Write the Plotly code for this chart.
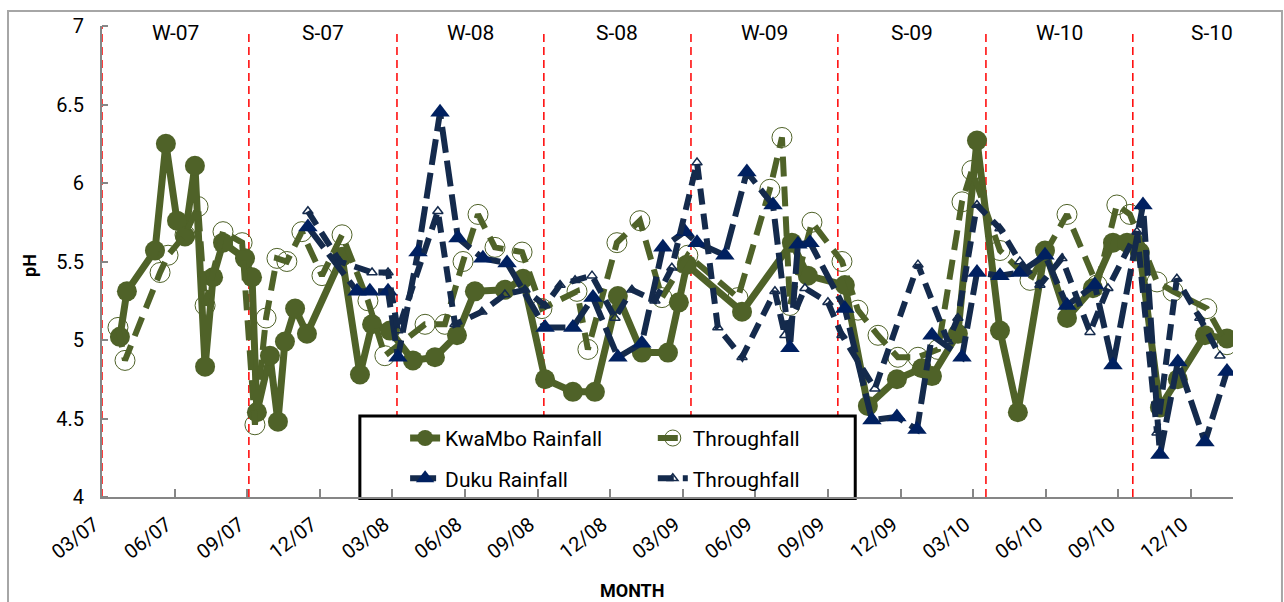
import plotly.graph_objects as go

# x values: months elapsed since March 2007 (sampling dates)
kr_month = [0.74, 1.03, 2.19, 2.64, 3.10, 3.43, 3.84, 4.26, 4.59, 5.00, 5.91, 6.20, 6.40, 6.94, 7.27,
            7.56, 7.98, 8.47, 9.92, 10.66, 11.16, 11.90, 12.85, 13.76, 14.67, 15.41, 16.65, 17.40,
            18.31, 19.46, 20.37, 21.32, 22.31, 23.39, 23.84, 24.17, 26.45, 28.51, 29.17, 30.70,
            31.65, 32.85, 33.88, 34.30, 35.37, 36.16, 37.11, 37.85, 38.97, 39.88, 40.95, 41.78,
            42.36, 42.89, 43.72, 44.46, 45.58, 46.49]
kr_ph = [5.02, 5.31, 5.57, 6.25, 5.76, 5.66, 6.11, 4.83, 5.40, 5.62, 5.52, 5.40, 4.54, 4.90, 4.48,
         4.99, 5.20, 5.04, 5.53, 4.78, 5.10, 5.06, 4.87, 4.89, 5.03, 5.31, 5.32, 5.39,
         4.75, 4.67, 4.67, 5.28, 4.92, 4.92, 5.24, 5.48, 5.18, 5.62, 5.41, 5.35,
         4.58, 4.75, 4.82, 4.77, 5.04, 6.27, 5.06, 4.54, 5.57, 5.14, 5.33, 5.62,
         5.62, 5.56, 4.57, 4.75, 5.03, 5.01]

kt_month = [0.66, 0.95, 2.40, 2.73, 3.43, 3.97, 4.26, 5.00, 5.79, 6.32, 6.78, 7.23, 7.64, 8.26, 9.09,
            9.92, 10.99, 11.69, 13.35, 14.17, 14.92, 15.54, 16.24, 17.36, 18.18, 19.63, 20.08,
            21.28, 22.23, 23.14, 24.21, 26.28, 27.60, 28.10, 28.43, 29.34, 30.58, 31.24, 32.07,
            32.89, 33.72, 34.55, 35.54, 35.95, 37.11, 38.35, 39.88, 41.12, 41.94, 42.48, 43.60,
            44.26, 45.66, 46.49]
kt_ph = [5.08, 4.87, 5.43, 5.54, 5.67, 5.85, 5.22, 5.69, 5.62, 4.46, 5.14, 5.52, 5.50, 5.69, 5.41,
         5.67, 5.25, 4.90, 5.10, 5.10, 5.50, 5.80, 5.59, 5.56, 5.20, 5.31, 4.94,
         5.62, 5.76, 5.27, 5.54, 5.27, 5.96, 6.29, 5.22, 5.75, 5.50, 5.19, 5.03,
         4.89, 4.89, 4.94, 5.88, 6.08, 5.57, 5.38, 5.80, 5.35, 5.86, 5.80, 5.37,
         5.31, 5.20, 4.97]

dr_month = [8.51, 10.54, 11.07, 11.82, 12.23, 13.06, 13.97, 14.71, 15.74, 16.74, 18.31, 19.46, 20.29,
            21.32, 22.31, 23.18, 24.09, 24.59, 25.74, 26.65, 27.73, 28.43, 28.76, 29.26, 30.70,
            31.82, 32.85, 33.68, 34.30, 35.54, 36.16, 37.11, 37.93, 38.97, 39.88, 41.03, 41.78,
            43.02, 43.72, 44.46, 45.58, 46.49]
dr_ph = [5.72, 5.31, 5.31, 5.31, 4.89, 5.56, 6.45, 5.65, 5.52, 5.49, 5.08, 5.08, 5.27,
         4.89, 4.98, 5.59, 5.69, 5.62, 5.54, 6.07, 5.86, 4.95, 5.61, 5.62, 5.20,
         4.49, 4.51, 4.43, 5.03, 4.89, 5.43, 5.41, 5.43, 5.54, 5.22, 5.35, 4.84,
         5.86, 4.27, 4.86, 4.35, 4.80]

dt_month = [8.51, 9.83, 11.16, 11.82, 12.23, 13.88, 14.59, 15.70, 16.65, 17.48, 18.31, 18.93, 19.55,
            20.25, 21.20, 21.90, 22.85, 23.55, 24.59, 25.45, 26.45, 27.81, 28.22, 29.05, 30.00,
            30.58, 31.94, 33.72, 34.96, 35.37, 36.16, 37.11, 37.93, 38.76, 39.67, 40.83, 41.57,
            42.77, 43.60, 44.42, 45.37, 46.20]
dt_ph = [5.82, 5.50, 5.43, 5.43, 5.06, 5.82, 5.10, 5.18, 5.29, 5.32, 5.22, 5.35, 5.38,
         5.41, 5.14, 5.32, 5.25, 5.46, 6.13, 5.08, 4.89, 5.31, 5.03, 5.33, 5.24,
         5.03, 4.69, 5.48, 4.99, 5.14, 5.86, 5.71, 5.50, 5.35, 5.52, 5.05, 5.33,
         5.69, 4.41, 5.39, 5.14, 4.90]

tick_months = [0, 3, 6, 9, 12, 15, 18, 21, 24, 27, 30, 33, 36, 39, 42, 45]
tick_labels = ["03/07", "06/07", "09/07", "12/07", "03/08", "06/08", "09/08", "12/08",
               "03/09", "06/09", "09/09", "12/09", "03/10", "06/10", "09/10", "12/10"]

season_names = ["W-07", "S-07", "W-08", "S-08", "W-09", "S-09", "W-10", "S-10"]
season_centers = [3.04, 9.13, 15.23, 21.30, 27.38, 33.47, 39.57, 45.87]
season_bounds = [0.0, 6.07, 12.19, 18.26, 24.34, 30.41, 36.53, 42.60]

y_ticks = [4, 4.5, 5, 5.5, 6, 6.5, 7]
y_tick_labels = ["4", "4.5", "5", "5.5", "6", "6.5", "7"]

GREEN = "#4F6228"
NAVY = "#002060"
NAVY_LINE = "#142A4C"
FONT = "Roboto, Open Sans, sans-serif"
PAD = "\u00a0\u00a0"

fig = go.Figure()
fig.add_trace(go.Scatter(
    x=kr_month, y=kr_ph, mode="lines+markers", name="KwaMbo Rainfall",
    line=dict(color=GREEN, width=7), marker=dict(symbol="circle", size=20, color=GREEN),
    legend="legend", legendgroup="g1"))
fig.add_trace(go.Scatter(
    x=kt_month, y=kt_ph, mode="lines+markers", name="Throughfall",
    line=dict(color=GREEN, width=6, dash="20px,10px"),
    marker=dict(symbol="circle-open", size=20, color=GREEN, line=dict(width=1, color=GREEN)),
    legend="legend2", legendgroup="g2"))
fig.add_trace(go.Scatter(
    x=dr_month, y=dr_ph, mode="lines+markers", name="Duku Rainfall",
    line=dict(color=NAVY_LINE, width=6, dash="26px,8px"),
    marker=dict(symbol="triangle-up", size=17, color=NAVY),
    legend="legend", legendgroup="g3"))
fig.add_trace(go.Scatter(
    x=dt_month, y=dt_ph, mode="lines+markers", name="Throughfall",
    line=dict(color=NAVY_LINE, width=6, dash="16px,9px"),
    marker=dict(symbol="triangle-up-open", size=9, color=NAVY_LINE, line=dict(width=1.5, color=NAVY_LINE)),
    legend="legend2", legendgroup="g4"))

shapes = []
# outer chart frame
shapes.append(dict(type="rect", xref="paper", yref="paper", x0=-0.0831, x1=1.0433, y0=-0.26, y1=1.0318,
                   line=dict(color="#A6A6A6", width=2), fillcolor="rgba(0,0,0,0)", layer="below"))
for i, b in enumerate(season_bounds):
    shapes.append(dict(type="line", xref="x", yref="paper", x0=b, x1=b, y0=0, y1=1.0 if i == 0 else 0.987,
                       line=dict(color="#FF0000", width=1.5, dash="8px,5px"), layer="below"))
# legend box
shapes.append(dict(type="rect", xref="paper", yref="paper", x0=0.228, x1=0.666, y0=-0.003, y1=0.172,
                   line=dict(color="black", width=3), fillcolor="white", layer="below"))

annotations = []
for name, c in zip(season_names, season_centers):
    annotations.append(dict(x=c, y=0.985, xref="x", yref="paper", text=name, showarrow=False,
                            font=dict(size=21, family=FONT, color="black"), xanchor="center", yanchor="middle"))
annotations.append(dict(x=0.4686, y=-0.1975, xref="paper", yref="paper", text="<b>MONTH</b>", showarrow=False,
                        font=dict(size=18, family=FONT, color="black"), xanchor="center", yanchor="middle"))
annotations.append(dict(x=-0.0637, y=0.4926, xref="paper", yref="paper", text="<b>pH</b>", showarrow=False,
                        textangle=-90, font=dict(size=18, family=FONT, color="black"),
                        xanchor="center", yanchor="middle"))

legend_common = dict(yanchor="top", xanchor="left", bgcolor="rgba(0,0,0,0)", borderwidth=0,
                     font=dict(size=21, family=FONT, color="black"), tracegroupgap=10,
                     orientation="v")

fig.update_layout(
    width=1284, height=602,
    margin=dict(l=102, r=51, t=26, b=105),
    paper_bgcolor="white", plot_bgcolor="white",
    showlegend=True,
    legend=dict(x=0.268, y=0.168, **legend_common),
    legend2=dict(x=0.487, y=0.168, **legend_common),
    xaxis=dict(range=[0, 46.74], tickmode="array", tickvals=tick_months,
               ticktext=[t + PAD for t in tick_labels],
               tickangle=-38, ticks="inside", ticklen=8, tickcolor="#868686", tickwidth=1.5,
               showline=True, linecolor="#868686", linewidth=2, showgrid=False, zeroline=False,
               tickfont=dict(size=20, family=FONT, color="black")),
    yaxis=dict(range=[4, 7], tickmode="array", tickvals=y_ticks, ticktext=y_tick_labels,
               ticks="outside", ticklen=12, tickcolor="rgba(0,0,0,0)",
               minor=dict(tickmode="array", tickvals=y_ticks, ticks="inside", ticklen=6,
                          tickcolor="#868686", tickwidth=1.5, showgrid=False),
               showline=True, linecolor="#868686", linewidth=2, showgrid=False, zeroline=False,
               tickfont=dict(size=20, family=FONT, color="black")),
    shapes=shapes, annotations=annotations,
)

fig.write_html("out.html")
